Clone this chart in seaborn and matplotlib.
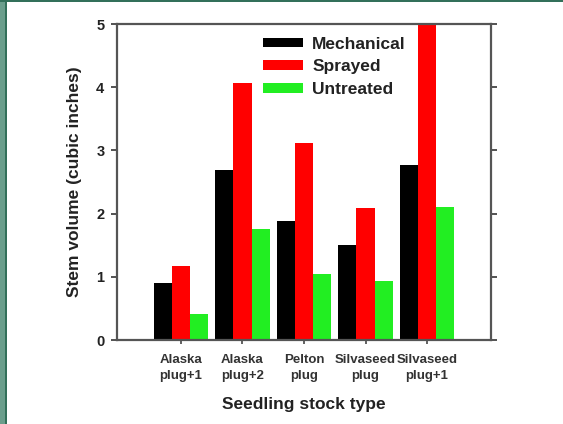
import matplotlib
matplotlib.use("Agg")
import matplotlib.pyplot as plt
import seaborn as sns
import pandas as pd
from matplotlib.patches import Rectangle

categories = ["Alaska\nplug+1", "Alaska\nplug+2", "Pelton\nplug", "Silvaseed\nplug", "Silvaseed\nplug+1"]
treatments = ["Mechanical", "Sprayed", "Untreated"]
mechanical = [0.90, 2.69, 1.89, 1.50, 2.77]
sprayed = [1.17, 4.06, 3.11, 2.09, 5.00]
untreated = [0.41, 1.76, 1.04, 0.93, 2.10]
colors = ["#000000", "#ff0000", "#22ee22"]
yticks = [0, 1, 2, 3, 4, 5]

rows = []
for t, vals in zip(treatments, [mechanical, sprayed, untreated]):
    for c, v in zip(categories, vals):
        rows.append({"Stock": c, "Treatment": t, "Volume": v})
df = pd.DataFrame(rows)

sns.set_style("white")
plt.rcParams["font.family"] = ["Liberation Sans", "DejaVu Sans"]
plt.rcParams["font.weight"] = "bold"

fig = plt.figure(figsize=(5.63, 4.24), dpi=100)
fig.patch.set_facecolor("white")
ax = fig.add_axes([117/563, 1-340/424, 374/563, 316/424])

sns.barplot(data=df, x="Stock", y="Volume", hue="Treatment", order=categories,
            hue_order=treatments, palette=colors, width=0.88, saturation=1,
            edgecolor="none", linewidth=0, ax=ax, errorbar=None)

ax.set_xlim(-1.04, 5.04)
ax.set_ylim(0, 5)
ax.set_yticks(yticks)
ax.set_yticklabels([str(v) for v in yticks], fontsize=10.5, fontweight="bold", color="#222222")
ax.set_xticks(range(len(categories)))
ax.set_xticklabels(categories, fontsize=9.5, fontweight="bold", color="#333333", linespacing=1.45)
ax.set_xlabel("Seedling stock type", fontsize=12.5, fontweight="bold", color="#222222", labelpad=11)
ax.set_ylabel("Stem volume (cubic inches)", fontsize=12.5, fontweight="bold", color="#222222", labelpad=10)

for s in ax.spines.values():
    s.set_visible(True)
    s.set_color("#555555")
    s.set_linewidth(1.6)

ax.tick_params(axis="y", which="both", left=True, right=True, direction="out", length=4,
               width=1.3, color="#444444", pad=5)
ax.tick_params(axis="x", bottom=True, direction="out", length=3, width=1.3, color="#555555", pad=7)

leg = ax.legend(loc="upper left", bbox_to_anchor=(0.39, 0.96), frameon=False,
                fontsize=12.5, handlelength=2.3, handleheight=0.5, handletextpad=0.55,
                labelspacing=0.45, borderpad=0, borderaxespad=0)
for t in leg.get_texts():
    t.set_fontweight("bold")
    t.set_color("#222222")

# page border
fig.add_artist(Rectangle((0, 0), 5/563, 1, transform=fig.transFigure, color="#6b9e8c", lw=0, zorder=-1))
fig.add_artist(Rectangle((5/563, 0), 2/563, 1, transform=fig.transFigure, color="#33705a", lw=0, zorder=-1))
fig.add_artist(Rectangle((0, 1-2/424), 1, 2/424, transform=fig.transFigure, color="#33705a", lw=0, zorder=-1))

fig.savefig("out.png", dpi=100)
